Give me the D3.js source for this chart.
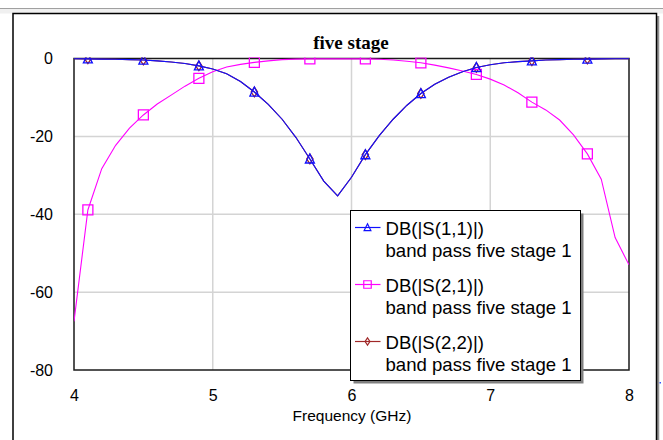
<!DOCTYPE html>
<html>
  <head>
    <meta charset="UTF-8" />
    <title>five stage</title>
    <style>
      body { margin: 0; background: #fff; }
      svg { display: block; font-family: "Liberation Sans", Arial, sans-serif; }
    </style>
  </head>
  <body>
    <svg width="663" height="440"></svg>

    <script src="https://d3js.org/d3.v7.min.js"></script>
    <script>
      // frequency grid (GHz), one sample every 0.1 GHz
      const freq = [4.0, 4.1, 4.2, 4.3, 4.4, 4.5, 4.6, 4.7, 4.8, 4.9,
        5.0, 5.1, 5.2, 5.3, 5.4, 5.5, 5.6, 5.7, 5.8, 5.9,
        6.0, 6.1, 6.2, 6.3, 6.4, 6.5, 6.6, 6.7, 6.8, 6.9,
        7.0, 7.1, 7.2, 7.3, 7.4, 7.5, 7.6, 7.7, 7.8, 7.9, 8.0];

      // DB(|S(1,1)|)
      const s11 = [-0.05, -0.1, -0.15, -0.2, -0.3, -0.4, -0.6, -0.9, -1.3, -1.9,
        -2.7, -3.9, -5.9, -8.6, -11.8, -15.6, -20.3, -25.8, -31.5, -35.3,
        -30.5, -24.7, -19.8, -15.6, -12.0, -9.0, -6.6, -4.8, -3.4, -2.3,
        -1.6, -1.1, -0.8, -0.6, -0.4, -0.3, -0.2, -0.15, -0.1, -0.08, -0.05];

      // DB(|S(2,1)|)
      const s21 = [-67.5, -38.9, -28.3, -22.3, -17.9, -14.5, -11.7, -9.4, -7.1, -5.1,
        -3.4, -2.2, -1.5, -1.0, -0.6, -0.3, -0.15, -0.1, -0.1, -0.1,
        -0.1, -0.1, -0.2, -0.4, -0.7, -1.1, -1.7, -2.4, -3.2, -4.1,
        -5.3, -6.8, -8.8, -11.2, -13.2, -15.8, -19.6, -24.5, -31.0, -46.0, -53.0];

      // DB(|S(2,2)|) - lies under S(1,1)
      const s22 = [-0.05, -0.1, -0.15, -0.2, -0.3, -0.4, -0.6, -0.9, -1.3, -1.9,
        -2.7, -3.9, -5.9, -8.6, -11.8, -15.6, -20.3, -25.8, -31.5, -35.3,
        -30.5, -24.7, -19.8, -15.6, -12.0, -9.0, -6.6, -4.8, -3.4, -2.3,
        -1.6, -1.1, -0.8, -0.6, -0.4, -0.3, -0.2, -0.15, -0.1, -0.08, -0.05];

      const markerFreqs = [4.1, 4.5, 4.9, 5.3, 5.7, 6.1, 6.5, 6.9, 7.3, 7.7];
      const xTicks = [4, 5, 6, 7, 8];
      const yTicks = [0, -20, -40, -60, -80];
      const seriesNames = ["DB(|S(1,1)|)", "DB(|S(2,1)|)", "DB(|S(2,2)|)"];
      const docName = "band pass five stage 1";

      let svg = d3.select("svg");

      // window strip + outer frame
      svg.append("rect").attr("x", 0).attr("y", 8.5).attr("width", 663).attr("height", 5)
        .attr("fill", "#f0f0f0");
      svg.append("line").attr("x1", 0).attr("x2", 663).attr("y1", 8.5).attr("y2", 8.5)
        .attr("stroke", "#a0a0a0");
      svg.append("line").attr("x1", 658).attr("x2", 658).attr("y1", 16).attr("y2", 440)
        .attr("stroke", "#909090").attr("stroke-width", 2.5);
      svg.append("rect").attr("x", 13).attr("y", 13.5).attr("width", 643.5).attr("height", 440)
        .attr("fill", "#fff").attr("stroke", "#000").attr("stroke-width", 1.5);
      svg.append("rect").attr("x", 659.5).attr("y", 382).attr("width", 1.5).attr("height", 1.5)
        .attr("fill", "#3050ff");

      let x = d3.scaleLinear().domain([4, 8]).range([74, 629]);
      let y = d3.scaleLinear().domain([-80, 0]).range([370, 58.5]);

      // grid
      svg.append("g").selectAll("line").data(xTicks.slice(1, -1)).enter().append("line")
        .attr("x1", (d) => x(d)).attr("x2", (d) => x(d))
        .attr("y1", y(0)).attr("y2", y(-80))
        .attr("stroke", "#d4d4d4").attr("stroke-width", 1.5);
      svg.append("g").selectAll("line").data(yTicks.slice(1, -1)).enter().append("line")
        .attr("x1", x(4)).attr("x2", x(8))
        .attr("y1", (d) => y(d)).attr("y2", (d) => y(d))
        .attr("stroke", "#d4d4d4").attr("stroke-width", 1.5);

      // tick labels
      svg.append("g").attr("transform", "translate(0,387)")
        .call(d3.axisBottom(x).tickValues(xTicks).tickSize(0).tickFormat(d3.format("d")))
        .call((g) => g.select(".domain").remove())
        .selectAll("text").attr("font-size", 16).attr("font-family", "Liberation Sans, Arial, sans-serif")
        .attr("fill", "#000");
      svg.append("g").attr("transform", "translate(56,0)")
        .call(d3.axisLeft(y).tickValues(yTicks).tickSize(0).tickFormat((d) => (d < 0 ? "-" + (-d) : d)))
        .call((g) => g.select(".domain").remove())
        .selectAll("text").attr("font-size", 16).attr("font-family", "Liberation Sans, Arial, sans-serif")
        .attr("fill", "#000");

      svg.append("text").attr("x", 352).attr("y", 421).attr("text-anchor", "middle")
        .attr("font-size", 15.5).text("Frequency (GHz)");
      svg.append("text").attr("x", 351).attr("y", 48.5).attr("text-anchor", "middle")
        .attr("font-family", "Liberation Serif, Times New Roman, serif")
        .attr("font-weight", "bold").attr("font-size", 19).text("five stage");

      // plot frame (curves are drawn over it)
      svg.append("rect").attr("x", x(4)).attr("y", y(0))
        .attr("width", x(8) - x(4)).attr("height", y(-80) - y(0))
        .attr("fill", "none").attr("stroke", "#1a1a1a").attr("stroke-width", 1.5);

      // plot area clip
      svg.append("clipPath").attr("id", "plotclip").append("rect")
        .attr("x", x(4)).attr("y", y(0) - 1).attr("width", x(8) - x(4)).attr("height", y(-80) - y(0) + 1);

      const tri = (s) => `M0,${-s * 0.55}L${s / 2},${s * 0.45}L${-s / 2},${s * 0.45}Z`;
      const sq = (s) => `M${-s / 2},${-s / 2}h${s}v${s}h${-s}Z`;
      const dia = (s) => `M0,${-s * 0.6}L${s * 0.4},0L0,${s * 0.6}L${-s * 0.4},0Z`;

      const series = [
        { name: seriesNames[2], values: s22, color: "#a02828", shape: dia, size: 8 },
        { name: seriesNames[1], values: s21, color: "#ff00ff", shape: sq, size: 10 },
        { name: seriesNames[0], values: s11, color: "#1010ff", shape: tri, size: 9 },
      ];

      let plot = svg.append("g").attr("clip-path", "url(#plotclip)");
      let line = d3.line().x((d) => x(d[0])).y((d) => y(d[1]));

      series.forEach((s) => {
        let pts = freq.map((f, i) => [f, s.values[i]]);
        plot.append("path").datum(pts).attr("d", line)
          .attr("fill", "none").attr("stroke", s.color).attr("stroke-width", 1.1);
        let marks = pts.filter((p) => markerFreqs.some((m) => Math.abs(m - p[0]) < 1e-6));
        plot.append("g").selectAll("path").data(marks).enter().append("path")
          .attr("transform", (d) => `translate(${x(d[0])},${y(d[1])})`)
          .attr("d", s.shape(s.size))
          .attr("fill", "none").attr("stroke", s.color).attr("stroke-width", 1.3);
      });

      // legend
      let legend = svg.append("g").attr("transform", "translate(350.5,210.5)");
      legend.append("rect").attr("x", 3).attr("y", 3).attr("width", 230).attr("height", 170)
        .attr("fill", "#808080");
      legend.append("rect").attr("width", 230).attr("height", 170)
        .attr("fill", "#fff").attr("stroke", "#000").attr("stroke-width", 1);

      let entries = [series[2], series[1], series[0]];
      entries.forEach((s, i) => {
        let g = legend.append("g").attr("transform", `translate(0,${17 + i * 57})`);
        g.append("line").attr("x1", 4.5).attr("x2", 30).attr("stroke", s.color).attr("stroke-width", 1.2);
        g.append("path").attr("transform", "translate(17,0)").attr("d", s.shape(s.size * 0.75))
          .attr("fill", "none").attr("stroke", s.color).attr("stroke-width", 1.2);
        g.append("text").attr("x", 35).attr("y", 7).attr("font-size", 18.6).attr("fill", "#000").text(s.name);
        g.append("text").attr("x", 35).attr("y", 29).attr("font-size", 18.6).attr("fill", "#000").text(docName);
      });
    </script>
  </body>
</html>
